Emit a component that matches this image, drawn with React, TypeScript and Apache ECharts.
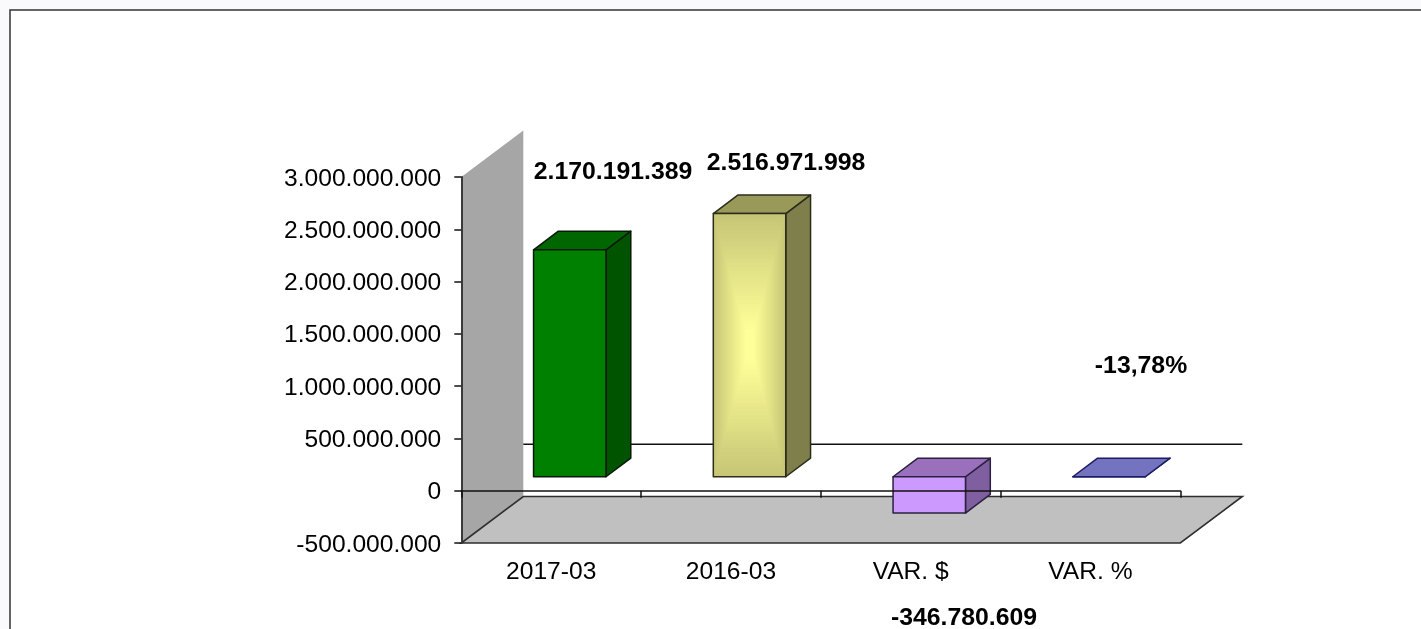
import React, { useEffect, useRef } from "react";
import * as echarts from "echarts";

const categories = ["2017-03", "2016-03", "VAR. $", "VAR. %"];
const seriesValues = [2170191389, 2516971998, -346780609, -0.1378];
const dataLabels = ["2.170.191.389", "2.516.971.998", "-346.780.609", "-13,78%"];
const axisMin = -500000000;
const axisMax = 3000000000;
const axisStep = 500000000;

const FONT = '"Liberation Sans", Arial, sans-serif';
const TICK_SIZE = 24.6;
const BOLD_SIZE = 24.8;
// 3D projection of the chart's depth, in pixels
const DEPTH_X = 62;
const DEPTH_Y = -46.5;
const BAR_NEAR = 0.3;
const BAR_DEPTH = 0.4;
const BAR_WIDTH = 0.403;

const faces = [
  { front: "#008000", top: "#006600", side: "#005400", stroke: "#0a1a0a" },
  { front: "#c6c676", top: "#999959", side: "#7f7f4b", stroke: "#2c2c1c", glow: "#ffff99" },
  { front: "#cc99ff", top: "#9a70bc", side: "#7f5f9f", stroke: "#2a2040" },
  { front: "#7373bf", top: "#7373bf", side: "#7373bf", stroke: "#1c1c66" },
];

const labelPlaces = [
  { x: 613, y: 170 },
  { x: 786, y: 161 },
  { x: 964, y: 616.4 },
  { x: 1141, y: 364 },
];

const hex = (c: string) => [1, 3, 5].map((i) => parseInt(c.slice(i, i + 2), 16));
const mix = (a: string, b: string, t: number) => {
  const A = hex(a);
  const B = hex(b);
  return `rgb(${A.map((v, i) => Math.round(v + (B[i] - v) * t)).join(",")})`;
};

function renderRoom(params: any, api: any) {
  const cs = params.coordSys;
  const y0 = api.coord([0, 0])[1];
  const L = cs.x;
  const R = cs.x + cs.width;
  const B = cs.y + cs.height;
  const T = cs.y;
  return {
    type: "group",
    children: [
      {
        type: "polygon",
        shape: { points: [[L, T], [L + DEPTH_X, T + DEPTH_Y], [L + DEPTH_X, B + DEPTH_Y], [L, B]] },
        style: { fill: "#a6a6a6", stroke: "none" },
      },
      {
        type: "polygon",
        shape: { points: [[L, B], [R, B], [R + DEPTH_X, B + DEPTH_Y], [L + DEPTH_X, B + DEPTH_Y]] },
        style: { fill: "#c0c0c0", stroke: "#2e2e2e", lineWidth: 1.6 },
      },
      {
        type: "line",
        shape: { x1: L + DEPTH_X, y1: y0 + DEPTH_Y, x2: R + DEPTH_X, y2: y0 + DEPTH_Y },
        style: { stroke: "#111", lineWidth: 1.5 },
      },
    ],
  };
}

function renderBar(params: any, api: any) {
  const i = api.value(0);
  const value = api.value(1);
  const [cx, yv] = api.coord([i, value]);
  const y0 = api.coord([i, 0])[1];
  const w = api.size([1, 0])[0] * BAR_WIDTH;
  const dx = DEPTH_X * BAR_NEAR;
  const dy = DEPTH_Y * BAR_NEAR;
  const x1 = cx + dx - w / 2;
  const x2 = x1 + w;
  const yTop = Math.min(yv, y0) + dy;
  const yBot = Math.max(yv, y0) + dy;
  const ox = DEPTH_X * BAR_DEPTH;
  const oy = DEPTH_Y * BAR_DEPTH;
  const f = faces[i];
  const line = { stroke: f.stroke, lineWidth: 1.5, lineJoin: "round" };
  const children: any[] = [
    {
      type: "polygon",
      shape: { points: [[x2, yTop], [x2 + ox, yTop + oy], [x2 + ox, yBot + oy], [x2, yBot]] },
      style: { fill: f.side, ...line },
    },
    {
      type: "polygon",
      shape: { points: [[x1, yTop], [x1 + ox, yTop + oy], [x2 + ox, yTop + oy], [x2, yTop]] },
      style: { fill: f.top, ...line },
    },
    {
      type: "rect",
      shape: { x: x1, y: yTop, width: w, height: yBot - yTop },
      style: { fill: f.front, stroke: "none" },
    },
  ];
  if (f.glow) {
    const steps = 32;
    const h = yBot - yTop;
    for (let s = 1; s < steps; s++) {
      const t = s / steps;
      const ww = w * (1 - t);
      const hh = h * (1 - t);
      children.push({
        type: "rect",
        shape: { x: x1 + (w - ww) / 2, y: yTop + (h - hh) / 2, width: ww, height: hh },
        style: { fill: mix(f.front, f.glow, Math.min(1, t * 1.15)), stroke: "none" },
      });
    }
  }
  children.push({
    type: "rect",
    shape: { x: x1, y: yTop, width: w, height: yBot - yTop },
    style: { fill: "none", ...line },
  });
  return { type: "group", children };
}

export default function App() {
  const ref = useRef<HTMLDivElement>(null);
  useEffect(() => {
    document.body.style.margin = "0";
    document.body.style.overflow = "hidden";
    const chart = echarts.init(ref.current!, undefined, { renderer: "svg" });
    chart.setOption({
      animation: false,
      backgroundColor: "#fafafc",
      textStyle: { fontFamily: FONT },
      grid: { left: 461.3, top: 177, width: 719, height: 366, containLabel: false },
      xAxis: [
        {
          type: "category",
          data: categories,
          position: "bottom",
          axisLine: { show: false, onZero: false },
          axisTick: { show: false },
          axisLabel: { color: "#000", fontFamily: FONT, fontSize: TICK_SIZE, margin: 15 },
        },
        {
          type: "category",
          data: categories,
          position: "bottom",
          z: 10,
          axisLine: { show: true, onZero: true, lineStyle: { color: "#111", width: 1.5 } },
          axisTick: { show: true, length: 7, lineStyle: { color: "#111", width: 1.5 } },
          axisLabel: { show: false },
        },
      ],
      yAxis: {
        type: "value",
        min: axisMin,
        max: axisMax,
        interval: axisStep,
        z: 10,
        splitLine: { show: false },
        axisLine: { show: true, onZero: false, lineStyle: { color: "#3a3a3a", width: 2 } },
        axisTick: { show: true, length: 7, lineStyle: { color: "#111", width: 1.5 } },
        axisLabel: {
          color: "#000",
          fontFamily: FONT,
          fontSize: TICK_SIZE,
          margin: 20,
          padding: [0, 0, 2, 0],
          formatter: (v: number) => String(v).replace(/\B(?=(\d{3})+(?!\d))/g, "."),
        },
      },
      series: [
        {
          type: "custom",
          z: 1,
          silent: true,
          renderItem: renderRoom,
          data: [[0, 0]],
          encode: { x: 0, y: 1 },
        },
        {
          type: "custom",
          z: 2,
          silent: true,
          renderItem: renderBar,
          data: seriesValues.map((v, i) => [i, v]),
          encode: { x: 0, y: 1 },
        },
      ],
      graphic: [
        {
          type: "rect",
          z: -10,
          silent: true,
          shape: { x: 10, y: 10, width: 1600, height: 900 },
          style: { fill: "#ffffff", stroke: "#333333", lineWidth: 1.5 },
        },
        ...dataLabels.map((text, i) => ({
          type: "text",
          z: 20,
          silent: true,
          x: labelPlaces[i].x,
          y: labelPlaces[i].y,
          style: {
            text,
            fill: "#000",
            font: `bold ${BOLD_SIZE}px ${FONT}`,
            textAlign: "center",
            textVerticalAlign: "middle",
          },
        })),
      ],
    });
    return () => chart.dispose();
  }, []);
  return <div ref={ref} style={{ width: 1421, height: 629, filter: "blur(0.4px)" }} />;
}
